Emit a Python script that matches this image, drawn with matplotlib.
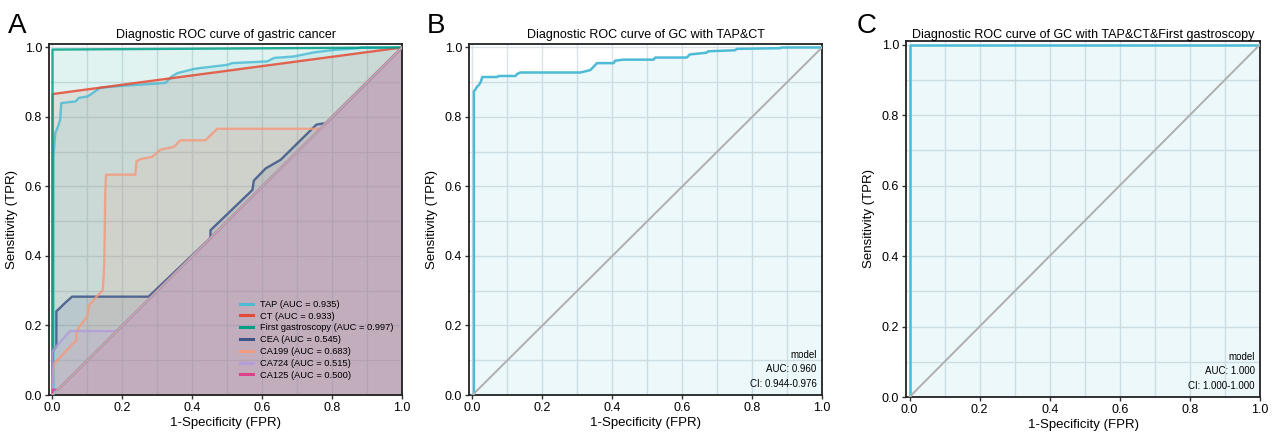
import numpy as np
import matplotlib
matplotlib.use("Agg")
import matplotlib.pyplot as plt
from matplotlib.ticker import MultipleLocator

plt.rcParams["font.family"] = ["Liberation Sans", "DejaVu Sans"]

# ---- panel A: single markers ----
tap_fpr = [0, 0.003, 0.003, 0.008, 0.016, 0.022, 0.025, 0.067, 0.075, 0.076, 0.099, 0.108, 0.122,
           0.137, 0.204, 0.252, 0.323, 0.33, 0.342, 0.357, 0.404, 0.424, 0.50, 0.514, 0.615, 0.634,
           0.69, 0.749, 0.806, 0.878, 0.88, 1.0]
tap_tpr = [0, 0.0, 0.69, 0.754, 0.773, 0.792, 0.84, 0.845, 0.855, 0.855, 0.859, 0.864, 0.874,
           0.884, 0.89, 0.893, 0.898, 0.905, 0.917, 0.926, 0.938, 0.941, 0.95, 0.955, 0.96, 0.97,
           0.974, 0.986, 0.993, 0.998, 1.0, 1.0]
ct_fpr = [0, 0, 1.0]
ct_tpr = [0, 0.866, 1.0]
gas_fpr = [0, 0, 1.0]
gas_tpr = [0, 0.994, 1.0]
cea_fpr = [0, 0, 0.011, 0.011, 0.022, 0.036, 0.056, 0.275, 0.45, 0.452, 0.452, 0.572, 0.576,
           0.61, 0.653, 0.755, 0.772, 0.781, 1.0]
cea_tpr = [0, 0.125, 0.14, 0.241, 0.251, 0.265, 0.283, 0.283, 0.45, 0.457, 0.474, 0.59, 0.617,
           0.652, 0.677, 0.778, 0.781, 0.781, 1.0]
ca199_fpr = [0, 0.003, 0.06, 0.068, 0.068, 0.10, 0.103, 0.127, 0.144, 0.148, 0.151, 0.153, 0.237,
             0.24, 0.252, 0.285, 0.309, 0.347, 0.366, 0.438, 0.471, 0.766, 1.0]
ca199_tpr = [0, 0.088, 0.15, 0.155, 0.184, 0.227, 0.256, 0.284, 0.302, 0.376, 0.582, 0.634, 0.634,
             0.672, 0.679, 0.685, 0.706, 0.714, 0.733, 0.733, 0.766, 0.766, 1.0]
ca724_fpr = [0, 0, 0.008, 0.05, 0.184, 1.0]
ca724_tpr = [0, 0.126, 0.136, 0.184, 0.184, 1.0]
ca125_fpr = [0, 0, 0.015, 1.0]
ca125_tpr = [0, 0.015, 0.015, 1.0]

names_a = ["TAP", "CT", "First gastroscopy", "CEA", "CA199", "CA724", "CA125"]
aucs_a = [0.935, 0.933, 0.997, 0.545, 0.683, 0.515, 0.500]
colors_a = ["#4DBBD5", "#E64B35", "#00A087", "#3C5488", "#F39B7F", "#B39DDB", "#E0408A"]
fprs_a = [tap_fpr, ct_fpr, gas_fpr, cea_fpr, ca199_fpr, ca724_fpr, ca125_fpr]
tprs_a = [tap_tpr, ct_tpr, gas_tpr, cea_tpr, ca199_tpr, ca724_tpr, ca125_tpr]

# ---- panel B: TAP & CT model ----
b_fpr = [0, 0.004, 0.004, 0.009, 0.012, 0.019, 0.024, 0.028, 0.071, 0.074, 0.123, 0.128, 0.137,
         0.308, 0.317, 0.337, 0.347, 0.356, 0.404, 0.408, 0.432, 0.518, 0.523, 0.613, 0.622, 0.67,
         0.674, 0.751, 0.756, 0.88, 0.885, 1.0]
b_tpr = [0, 0, 0.874, 0.88, 0.886, 0.893, 0.902, 0.915, 0.915, 0.918, 0.918, 0.924, 0.928,
         0.928, 0.93, 0.935, 0.945, 0.955, 0.955, 0.962, 0.965, 0.965, 0.971, 0.971, 0.98, 0.985,
         0.989, 0.992, 0.996, 0.998, 1.0, 1.0]

# ---- panel C: TAP & CT & First gastroscopy ----
c_fpr = [0, 0, 1.0]
c_tpr = [0, 1.0, 1.0]

GRID = "#dbe3e6"


def style_axes(ax, title, title_pad=4):
    ax.set_xlim(-0.01, 1.0)
    ax.set_ylim(0, 1.01)
    ax.xaxis.set_major_locator(MultipleLocator(0.2))
    ax.yaxis.set_major_locator(MultipleLocator(0.2))
    ax.xaxis.set_minor_locator(MultipleLocator(0.1))
    ax.yaxis.set_minor_locator(MultipleLocator(0.1))
    ax.grid(which="both", color=GRID, linewidth=1.0, zorder=0)
    ax.set_axisbelow(True)
    ax.tick_params(which="minor", length=0)
    ax.tick_params(which="major", length=3, width=1, labelsize=9, color="#333333", pad=2)
    for s in ax.spines.values():
        s.set_linewidth(1.3)
        s.set_color("#222222")
    ax.set_xlabel("1-Specificity (FPR)", fontsize=9.5, labelpad=2)
    ax.set_ylabel("Sensitivity (TPR)", fontsize=9.5, labelpad=5)
    ax.set_title(title, fontsize=9, pad=title_pad)
    ax.plot([0, 1], [0, 1], color="#AFAFAF", linewidth=1.4, zorder=4)


fig = plt.figure(figsize=(12.75, 4.32), dpi=100)

# panel A
ax = fig.add_axes([49 / 1275, 1 - 395 / 432, 353 / 1275, 351 / 432])
style_axes(ax, "Diagnostic ROC curve of gastric cancer")
for fpr, tpr, name, auc, col in zip(fprs_a, tprs_a, names_a, aucs_a, colors_a):
    ax.fill_between(fpr, tpr, 0, color=col, alpha=0.12, linewidth=0, zorder=2)
    ax.plot(fpr, tpr, color=col, linewidth=1.7, alpha=0.85, zorder=3,
            label=f"{name} (AUC = {auc:.3f})")
leg = ax.legend(loc="lower right", bbox_to_anchor=(1.0, 0.02), frameon=False, fontsize=6.7,
                handlelength=1.4, labelspacing=0.3, handletextpad=0.8)
for h in leg.get_lines():
    h.set_linewidth(2.2)
    h.set_alpha(1)
fig.text(8 / 1275, 1 - 33 / 432, "A", fontsize=20)

# panel B
ax = fig.add_axes([469 / 1275, 1 - 395 / 432, 353 / 1275, 351 / 432])
style_axes(ax, "Diagnostic ROC curve of GC with TAP&CT")
ax.fill_between(b_fpr, b_tpr, 0, color="#4DBBD5", alpha=0.1, linewidth=0, zorder=2)
ax.plot(b_fpr, b_tpr, color="#4DBBD5", linewidth=1.8, zorder=3)
ax.text(0.985, 0.018, "model\nAUC: 0.960\nCI: 0.944-0.976", transform=ax.transAxes,
        ha="right", va="bottom", fontsize=7, linespacing=1.55)
fig.text(427 / 1275, 1 - 33 / 432, "B", fontsize=20)

# panel C
ax = fig.add_axes([906 / 1275, 1 - 397 / 432, 354 / 1275, 356 / 432])
style_axes(ax, "Diagnostic ROC curve of GC with TAP&CT&First gastroscopy", title_pad=2)
ax.fill_between(c_fpr, c_tpr, 0, color="#4DBBD5", alpha=0.1, linewidth=0, zorder=2)
ax.plot(c_fpr, c_tpr, color="#4DBBD5", linewidth=1.8, zorder=3)
ax.text(0.985, 0.018, "model\nAUC: 1.000\nCI: 1.000-1.000", transform=ax.transAxes,
        ha="right", va="bottom", fontsize=7, linespacing=1.55)
fig.text(857 / 1275, 1 - 33 / 432, "C", fontsize=20)

fig.savefig("out.png", dpi=100)
